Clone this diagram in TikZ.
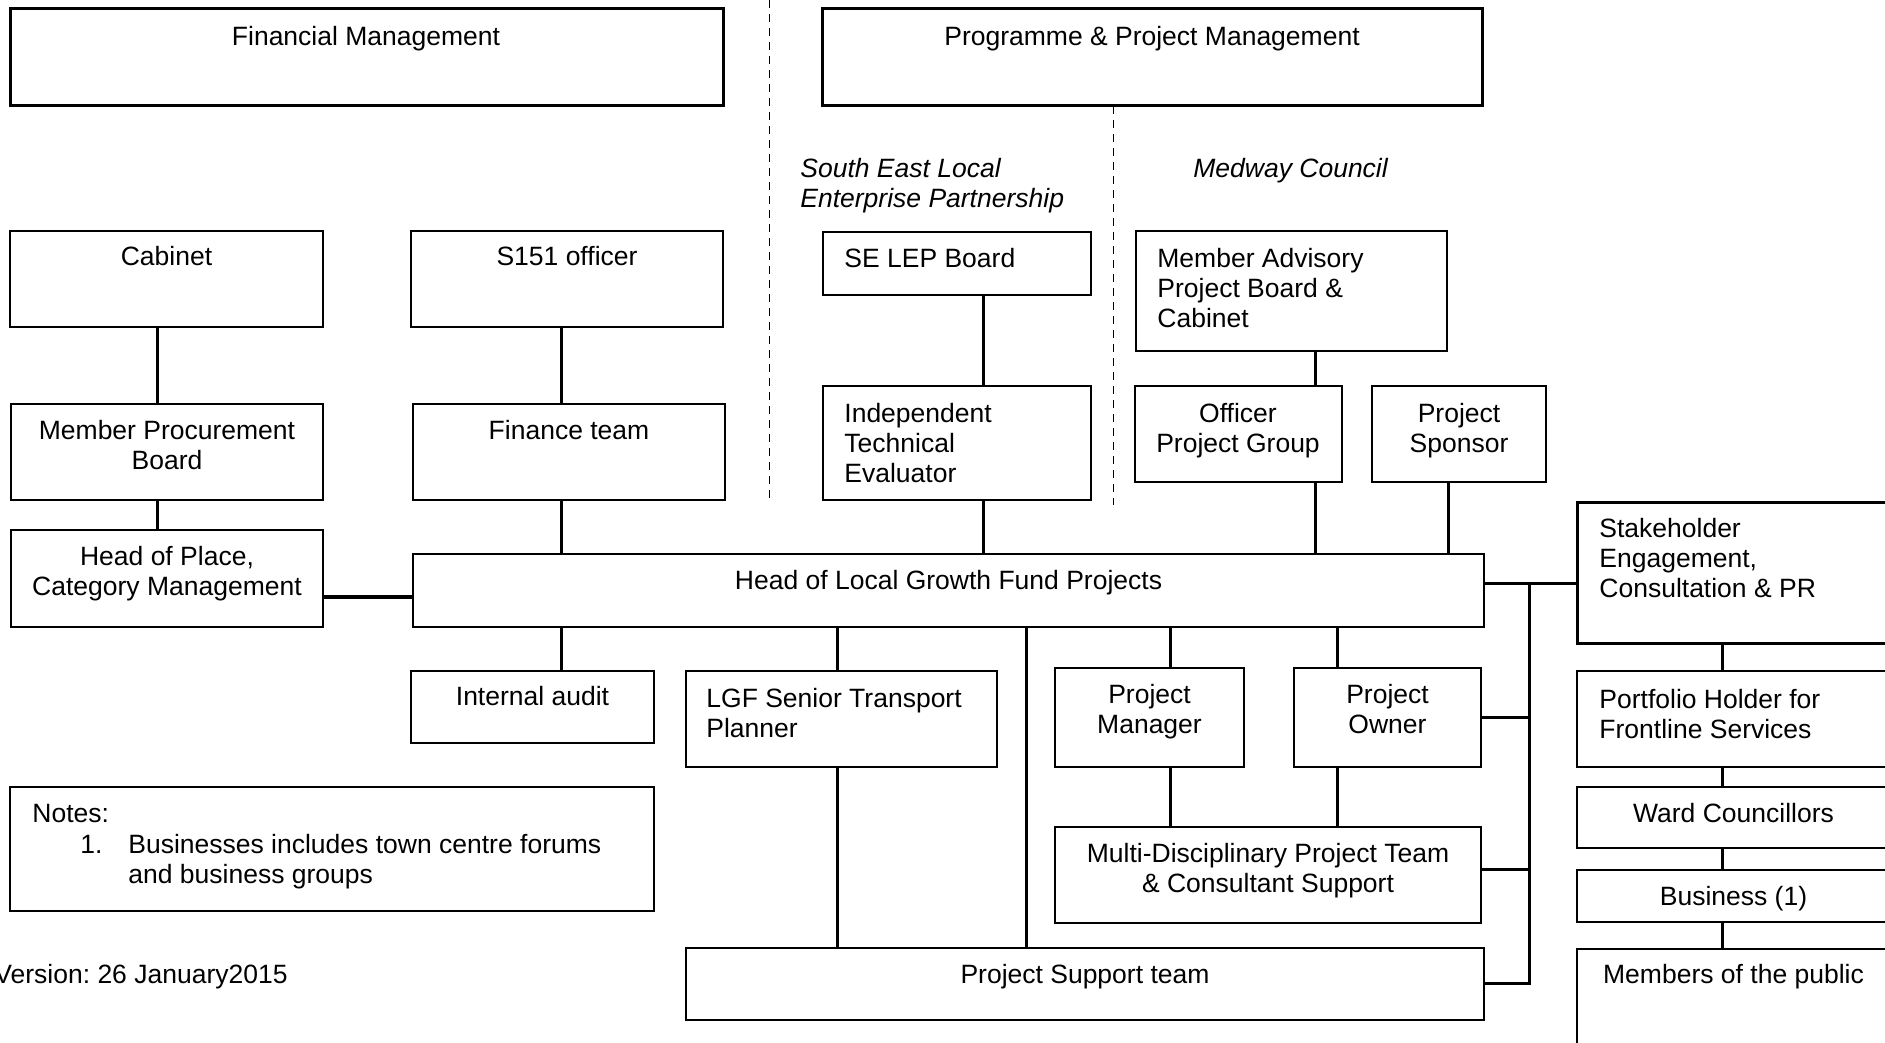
\documentclass[tikz,border=0pt]{standalone}
\usepackage{fontspec}
\setmainfont{Liberation Sans}
\usetikzlibrary{fit}
\frenchspacing
\newcommand{\myfont}{\fontsize{13.25pt}{15pt}\selectfont}
\newcommand{\fl}{\rule{0pt}{12pt}}
\begin{document}
\begin{tikzpicture}[x=0.5pt,y=-0.5pt,
  thinbox/.style={draw, line width=0.75pt, inner sep=0pt, rectangle},
  thickbox/.style={draw, line width=1.5pt, inner sep=0pt, rectangle},
  conn/.style={line width=1.5pt},
  boldconn/.style={line width=2pt},
  sepline/.style={line width=0.5pt, dash pattern=on 4pt off 3pt},
  tl/.style={inner sep=0pt, anchor=north west, align=left, font=\myfont},
  tc/.style={inner sep=0pt, anchor=north, align=center, font=\myfont},
  ti/.style={tl, font=\myfont\itshape}]
\useasboundingbox (0,0) rectangle (1885,1043);
\fill[white] (0,0) rectangle (1885,1043);
\clip (0,0) rectangle (1885,1043);

% boxes
\node[thickbox, fit={(10,9) (723,106)}] (fin) {};
\node[thickbox, fit={(822,9) (1482,106)}] (ppm) {};
\node[thinbox, fit={(10,231) (323,327)}] (cab) {};
\node[thinbox, fit={(411,231) (723,327)}] (s151) {};
\node[thinbox, fit={(823,232) (1091,295)}] (lep) {};
\node[thinbox, fit={(1136,231) (1447,351)}] (mapb) {};
\node[thinbox, fit={(11,404) (323,500)}] (mpb) {};
\node[thinbox, fit={(413,404) (725,500)}] (fteam) {};
\node[thinbox, fit={(823,386) (1091,500)}] (ite) {};
\node[thinbox, fit={(1135,386) (1342,482)}] (opg) {};
\node[thinbox, fit={(1372,386) (1546,482)}] (spon) {};
\node[thinbox, fit={(11,530) (323,627)}] (hop) {};
\node[thinbox, fit={(413,554) (1484,627)}] (hlgf) {};
\node[thickbox, fit={(1577,502) (1890,643)}] (stake) {};
\node[thinbox, fit={(411,671) (654,743)}] (audit) {};
\node[thinbox, fit={(686,671) (997,767)}] (lgf) {};
\node[thinbox, fit={(1055,668) (1244,767)}] (pm) {};
\node[thinbox, fit={(1294,668) (1481,767)}] (po) {};
\node[thinbox, fit={(1577,671) (1890,767)}] (port) {};
\node[thinbox, fit={(1577,787) (1890,848)}] (ward) {};
\node[thinbox, fit={(1055,827) (1481,923)}] (mdpt) {};
\node[thinbox, fit={(1577,870) (1890,922)}] (bus) {};
\node[thinbox, fit={(10,787) (654,911)}] (notes) {};
\node[thinbox, fit={(686,948) (1484,1020)}] (pst) {};
\node[thinbox, fit={(1577,949) (1890,1060)}] (pub) {};

% texts
\node[tc] (tfin) at (366,21) {\fl Financial Management};
\node[tc] (tppm) at (1152,21) {\fl Programme \& Project Management};
\node[ti] (tsel) at (800,153) {\fl South East Local\\Enterprise Partnership};
\node[ti] (tmed) at (1193,153) {\fl Medway Council};
\node[tc] (tcab) at (166.5,241) {\fl Cabinet};
\node[tc] (ts151) at (567,241) {\fl S151 officer};
\node[tl] (tlep) at (844,243) {\fl SE LEP Board};
\node[tl] (tmapb) at (1157,243) {\fl Member Advisory\\Project Board \&\\Cabinet};
\node[tc] (tmpb) at (167,415) {\fl Member Procurement\\Board};
\node[tc] (tfteam) at (569,415) {\fl Finance team};
\node[tl] (tite) at (844,398) {\fl Independent\\Technical\\Evaluator};
\node[tc] (topg) at (1238,398) {\fl Officer\\Project Group};
\node[tc] (tspon) at (1459,398) {\fl Project\\Sponsor};
\node[tc] (thop) at (167,541) {\fl Head of Place,\\Category Management};
\node[tc] (thlgf) at (948.5,565) {\fl Head of Local Growth Fund Projects};
\node[tl] (tstake) at (1599,513) {\fl Stakeholder\\Engagement,\\Consultation \& PR};
\node[tc] (taudit) at (532.5,681) {\fl Internal audit};
\node[tl] (tlgf) at (706,683) {\fl LGF Senior Transport\\Planner};
\node[tc] (tpm) at (1149.5,679) {\fl Project\\Manager};
\node[tc] (tpo) at (1387.5,679) {\fl Project\\Owner};
\node[tl] (tport) at (1599,684) {\fl Portfolio Holder for\\Frontline Services};
\node[tc] (tward) at (1733.5,798) {\fl Ward Councillors};
\node[tc] (tbus) at (1733.5,881) {\fl Business (1)};
\node[tc] (tmdpt) at (1268,838) {\fl Multi-Disciplinary Project Team\\\& Consultant Support};
\node[tl] (tnotes) at (32,798) {\fl Notes:};
\node[tl] (tnum) at (80,829) {\fl 1.};
\node[tl] (tnote1) at (128,829) {\fl Businesses includes town centre forums\\and business groups};
\node[tc] (tpub) at (1733.5,959) {\fl Members of the public};
\node[tc] (tpst) at (1085,959) {\fl Project Support team};
\node[inner sep=0pt, anchor=base east, font=\myfont] (tver) at (288,983) {Version: 26 January2015};

% helper coordinates
\coordinate (X157) at (157,0);
\coordinate (X561) at (561,0);
\coordinate (X983) at (983,0);
\coordinate (X1315) at (1315,0);
\coordinate (X1448) at (1448,0);
\coordinate (X837) at (837,0);
\coordinate (X1026) at (1026,0);
\coordinate (X1170) at (1170,0);
\coordinate (X1337) at (1337,0);
\coordinate (X1722) at (1722,0);
\coordinate (Y597) at (0,597);
\coordinate (Y583) at (0,583);
\coordinate (Y869) at (0,869);
\coordinate (bT) at (1529,583);
\coordinate (bB) at (1529,983);
\coordinate (d1a) at (769,0);
\coordinate (d1b) at (769,500);
\coordinate (d2a) at (1113,106);
\coordinate (d2b) at (1113,505);

% dashed separators
\draw[sepline] (d1a) -- (d1b);
\draw[sepline] (d2a) -- (d2b);

% connectors
\draw[conn] (cab.south -| X157) -- (mpb.north -| X157);
\draw[conn] (mpb.south -| X157) -- (hop.north -| X157);
\draw[conn] (s151.south -| X561) -- (fteam.north -| X561);
\draw[conn] (fteam.south -| X561) -- (hlgf.north -| X561);
\draw[conn] (hlgf.south -| X561) -- (audit.north -| X561);
\draw[boldconn] (hop.east |- Y597) -- (hlgf.west |- Y597);
\draw[conn] (lep.south -| X983) -- (ite.north -| X983);
\draw[conn] (ite.south -| X983) -- (hlgf.north -| X983);
\draw[conn] (mapb.south -| X1315) -- (opg.north -| X1315);
\draw[conn] (opg.south -| X1315) -- (hlgf.north -| X1315);
\draw[conn] (spon.south -| X1448) -- (hlgf.north -| X1448);
\draw[conn] (hlgf.east |- Y583) -- (stake.west |- Y583);
\draw[conn, line cap=rect] (bT) -- (bB);
\draw[conn] (po.east) -- (po.east -| bT);
\draw[conn] (mdpt.east |- Y869) -- (bT |- Y869);
\draw[conn] (pst.east |- bB) -- (bB);
\draw[conn] (hlgf.south -| X837) -- (lgf.north -| X837);
\draw[conn] (lgf.south -| X837) -- (pst.north -| X837);
\draw[conn] (hlgf.south -| X1026) -- (pst.north -| X1026);
\draw[conn] (hlgf.south -| X1170) -- (pm.north -| X1170);
\draw[conn] (pm.south -| X1170) -- (mdpt.north -| X1170);
\draw[conn] (hlgf.south -| X1337) -- (po.north -| X1337);
\draw[conn] (po.south -| X1337) -- (mdpt.north -| X1337);
\draw[conn] (stake.south -| X1722) -- (port.north -| X1722);
\draw[conn] (port.south -| X1722) -- (ward.north -| X1722);
\draw[conn] (ward.south -| X1722) -- (bus.north -| X1722);
\draw[conn] (bus.south -| X1722) -- (pub.north -| X1722);
\end{tikzpicture}
\end{document}
